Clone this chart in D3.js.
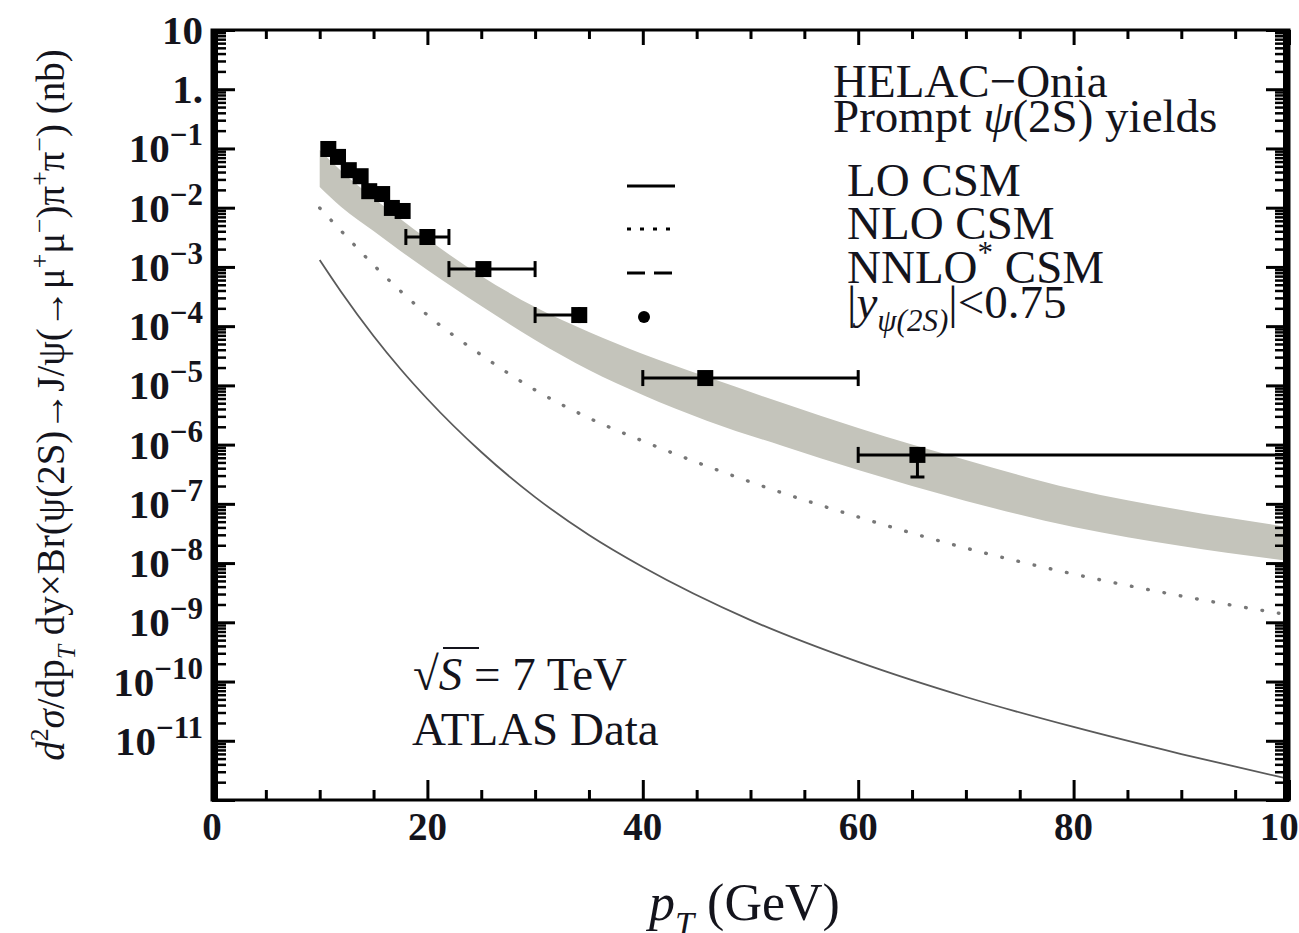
<!DOCTYPE html>
<html>
<head>
<meta charset="utf-8">
<script src="https://cdnjs.cloudflare.com/ajax/libs/d3/7.8.5/d3.min.js"></script>
<style>
body { margin: 0; background: #fff; overflow: hidden; }
text { font-family: "Liberation Serif", "DejaVu Serif", serif; fill: #14141c; }
</style>
</head>
<body>
<div id="container"></div>
<script>
// NNLO* CSM band (upper / lower edge), nb
var bandPt = [10, 12, 15, 17.5, 20, 25, 30, 35, 40, 46, 53, 60, 70, 80, 90, 100];
var bandHigh = [9.42e-2, 4.16e-2, 1.46e-2, 6.44e-3, 2.96e-3, 7.03e-4, 2.1e-4, 7.96e-5, 3.39e-5, 1.38e-5, 5.04e-6, 1.91e-6, 5.5e-7, 1.78e-7, 7.87e-8, 4.06e-8];
var bandLow = [2.23e-2, 1.03e-2, 4.04e-3, 1.86e-3, 8.87e-4, 2.19e-4, 5.83e-5, 1.82e-5, 6.89e-6, 2.51e-6, 9.46e-7, 3.72e-7, 1.12e-7, 4.06e-8, 1.94e-8, 1.08e-8];

// NLO and LO CSM curves
var curvePt = [10, 12, 15, 17.5, 20, 25, 30, 35, 40, 50, 60, 70, 80, 90, 100];
var nloCsm = [9.89e-3, 4.04e-3, 1.08e-3, 3.92e-4, 1.54e-4, 3.26e-5, 8.36e-6, 2.81e-6, 1.15e-6, 2.34e-7, 6.0e-8, 1.79e-8, 6.53e-9, 2.78e-9, 1.33e-9];
var loCsm = [1.31e-3, 3.78e-4, 6.82e-5, 1.89e-5, 5.89e-6, 7.5e-7, 1.3e-7, 2.98e-8, 8.59e-9, 1.09e-9, 2.14e-10, 5.48e-11, 1.71e-11, 5.97e-12, 2.26e-12];

// ATLAS data
var dataPt = [10.8, 11.7, 12.7, 13.8, 14.6, 15.8, 16.7, 17.7, 20.0, 25.2, 34.1, 45.8, 65.5];
var dataVal = [9.8e-2, 7.2e-2, 4.3e-2, 3.4e-2, 1.9e-2, 1.7e-2, 9.9e-3, 8.8e-3, 3.2e-3, 9.2e-4, 1.54e-4, 1.33e-5, 6.7e-7];
var dataPtLo = [10.8, 11.7, 12.7, 13.8, 14.6, 15.8, 16.7, 17.7, 18, 22, 30, 40, 60];
var dataPtHi = [10.8, 11.7, 12.7, 13.8, 14.6, 15.8, 16.7, 17.7, 22, 30, 34.1, 60, 100];
var dataValLo = [9.8e-2, 7.2e-2, 4.3e-2, 3.4e-2, 1.9e-2, 1.7e-2, 9.9e-3, 8.8e-3, 3.2e-3, 9.2e-4, 1.54e-4, 1.33e-5, 2.84e-7];
var dataValHi = [9.8e-2, 7.2e-2, 4.3e-2, 3.4e-2, 1.9e-2, 1.7e-2, 9.9e-3, 8.8e-3, 3.2e-3, 9.2e-4, 1.54e-4, 1.33e-5, 9.1e-7];

var xMajor = [0, 20, 40, 60, 80, 100];
var yExponents = [1, 0, -1, -2, -3, -4, -5, -6, -7, -8, -9, -10, -11];
var legendLabels = ["LO CSM", "NLO CSM", "NNLO* CSM"];

(function()
{
	var W = 1299, H = 933;
	var left = 212, right = 1289, top = 30, bottom = 800;
	var fs = 47; // text size of the legend / notes
	var svg = d3.select("#container").append("svg")
		.attr("width", W)
		.attr("height", H);

	var x = d3.scaleLinear().domain([0, 100]).range([left, right]);
	var y = d3.scaleLog().domain([1e-12, 10]).range([bottom, top]);

	// helper for sub/superscripts
	function rich(sel, parts, size)
	{
		var shift = 0;
		parts.forEach(function(p)
		{
			var mode = p[1] || "";
			var target = mode.indexOf("^") >= 0 ? -0.42 * size : (mode.indexOf("_") >= 0 ? 0.28 * size : 0);
			var ts = sel.append("tspan").attr("dy", target - shift).text(p[0]);
			if (target !== 0) ts.style("font-size", (size * 0.66) + "px");
			if (mode.indexOf("i") >= 0) ts.style("font-style", "italic");
			shift = target;
		});
	}

	svg.append("clipPath").attr("id", "plotclip").append("rect")
		.attr("x", left).attr("y", top).attr("width", right - left).attr("height", bottom - top);
	var plot = svg.append("g").attr("clip-path", "url(#plotclip)");

	// band
	var bandData = bandPt.map(function(p, i) { return {pt: p, hi: bandHigh[i], lo: bandLow[i]}; });
	plot.append("path")
		.datum(bandData)
		.attr("fill", "#c4c4bb")
		.attr("d", d3.area()
			.x(function(d) { return x(d.pt); })
			.y0(function(d) { return y(d.lo); })
			.y1(function(d) { return y(d.hi); })
			.curve(d3.curveMonotoneX));

	var line = d3.line()
		.x(function(d) { return x(d[0]); })
		.y(function(d) { return y(d[1]); })
		.curve(d3.curveMonotoneX);

	plot.append("path")
		.datum(d3.zip(curvePt, nloCsm))
		.attr("fill", "none")
		.attr("stroke", "#777")
		.attr("stroke-width", 3.4)
		.attr("stroke-linecap", "round")
		.attr("stroke-dasharray", "0.6,16")
		.attr("d", line);

	plot.append("path")
		.datum(d3.zip(curvePt, loCsm))
		.attr("fill", "none")
		.attr("stroke", "#5a5a5a")
		.attr("stroke-width", 1.8)
		.attr("d", line);

	// data points
	var pts = dataPt.map(function(p, i)
	{
		return {pt: p, v: dataVal[i], xl: dataPtLo[i], xh: dataPtHi[i], yl: dataValLo[i], yh: dataValHi[i]};
	});
	var g = plot.append("g").attr("stroke", "#000").attr("stroke-width", 3);
	pts.forEach(function(d)
	{
		if (d.xh > d.xl)
		{
			g.append("line").attr("x1", x(d.xl)).attr("x2", x(d.xh)).attr("y1", y(d.v)).attr("y2", y(d.v));
			g.append("line").attr("x1", x(d.xl)).attr("x2", x(d.xl)).attr("y1", y(d.v) - 8).attr("y2", y(d.v) + 8);
			g.append("line").attr("x1", x(d.xh)).attr("x2", x(d.xh)).attr("y1", y(d.v) - 8).attr("y2", y(d.v) + 8);
		}
		if (d.yl < d.yh)
		{
			g.append("line").attr("x1", x(d.pt)).attr("x2", x(d.pt)).attr("y1", y(d.yl)).attr("y2", y(d.yh));
			g.append("line").attr("x1", x(d.pt) - 7).attr("x2", x(d.pt) + 7).attr("y1", y(d.yl)).attr("y2", y(d.yl));
		}
	});
	plot.selectAll(".pt").data(pts).enter().append("rect")
		.attr("x", function(d) { return x(d.pt) - 8; })
		.attr("y", function(d) { return y(d.v) - 8; })
		.attr("width", 16).attr("height", 16)
		.attr("fill", "#000");

	// axes
	var yMinor = [];
	for (var e = -12; e <= 0; e++)
		for (var k = 2; k <= 9; k++) yMinor.push(k * Math.pow(10, e));
	var yMajor = yExponents.map(function(n) { return Math.pow(10, n); }).concat([1e-12]);
	var xMinor = d3.range(0, 101, 5).filter(function(v) { return v % 20 !== 0; });

	function styleAxis(a, w)
	{
		a.select(".domain").remove();
		a.selectAll("line").attr("stroke", "#000").attr("stroke-width", w);
	}
	svg.append("g").attr("transform", "translate(" + left + ",0)")
		.call(d3.axisLeft(y).tickValues(yMinor).tickSize(-14).tickFormat(""))
		.call(styleAxis, 2.5);
	svg.append("g").attr("transform", "translate(" + left + ",0)")
		.call(d3.axisLeft(y).tickValues(yMajor).tickSize(-23).tickFormat(""))
		.call(styleAxis, 3);
	svg.append("g").attr("transform", "translate(" + right + ",0)")
		.call(d3.axisRight(y).tickValues(yMinor).tickSize(-14).tickFormat(""))
		.call(styleAxis, 2.5);
	svg.append("g").attr("transform", "translate(" + right + ",0)")
		.call(d3.axisRight(y).tickValues(yMajor).tickSize(-23).tickFormat(""))
		.call(styleAxis, 3);
	svg.append("g").attr("transform", "translate(0," + bottom + ")")
		.call(d3.axisBottom(x).tickValues(xMinor).tickSize(-10).tickFormat(""))
		.call(styleAxis, 3);
	svg.append("g").attr("transform", "translate(0," + bottom + ")")
		.call(d3.axisBottom(x).tickValues(xMajor).tickSize(-20).tickFormat(""))
		.call(styleAxis, 3);
	svg.append("g").attr("transform", "translate(0," + top + ")")
		.call(d3.axisTop(x).tickValues(xMinor).tickSize(-9).tickFormat(""))
		.call(styleAxis, 3);
	svg.append("g").attr("transform", "translate(0," + top + ")")
		.call(d3.axisTop(x).tickValues(xMajor).tickSize(-15).tickFormat(""))
		.call(styleAxis, 3);

	// frame
	svg.append("rect").attr("x", left).attr("y", top).attr("width", right - left).attr("height", bottom - top)
		.attr("fill", "none").attr("stroke", "#000").attr("stroke-width", 3);
	svg.append("line").attr("x1", left + 3).attr("x2", left + 3).attr("y1", top).attr("y2", bottom)
		.attr("stroke", "#000").attr("stroke-width", 6);
	svg.append("line").attr("x1", right - 3).attr("x2", right - 3).attr("y1", top).attr("y2", bottom)
		.attr("stroke", "#000").attr("stroke-width", 6);

	// tick labels
	yExponents.forEach(function(n)
	{
		var t = svg.append("text")
			.attr("x", 203)
			.attr("y", y(Math.pow(10, n)) + 14)
			.attr("text-anchor", "end")
			.style("font-size", "41px")
			.style("font-weight", "bold");
		if (n === 1) t.text("10");
		else if (n === 0) t.text("1.");
		else
		{
			t.append("tspan").text("10");
			t.append("tspan").attr("dy", -17).style("font-size", "31px").text("\u2212" + (-n));
		}
	});
	svg.selectAll(".xl").data(xMajor).enter().append("text")
		.attr("x", function(d) { return x(d); })
		.attr("y", 840)
		.attr("text-anchor", "middle")
		.style("font-size", "39px")
		.style("font-weight", "bold")
		.text(function(d) { return d; });

	// axis titles
	var xt = svg.append("text").attr("x", 649).attr("y", 920).style("font-size", "52px");
	rich(xt, [["p", "i"], ["T", "_i"], [" (GeV)"]], 52);

	var yt = svg.append("text")
		.attr("transform", "translate(64,405) rotate(-90)")
		.attr("text-anchor", "middle")
		.style("font-size", "39px");
	rich(yt, [["d", "i"], ["2", "^"], ["\u03c3", "i"], ["/dp"], ["T", "_i"], [" dy\u00d7Br(\u03c8(2S)\u2192J/\u03c8(\u2192\u03bc"], ["+", "^"],
		["\u03bc"], ["\u2212", "^"], [")\u03c0"], ["+", "^"], ["\u03c0"], ["\u2212", "^"], [") (nb)"]], 39);

	// legend
	svg.append("text").attr("x", 833).attr("y", 97).style("font-size", fs + "px").text("HELAC\u2212Onia");
	var pr = svg.append("text").attr("x", 833).attr("y", 132).style("font-size", fs + "px");
	rich(pr, [["Prompt "], ["\u03c8", "i"], ["(2S) yields"]], fs);

	var legY = [186, 229, 273];
	var dashes = [null, "4,9", "18,9"];
	legendLabels.forEach(function(lab, i)
	{
		svg.append("line").attr("x1", 627).attr("x2", 675).attr("y1", legY[i]).attr("y2", legY[i])
			.attr("stroke", "#000").attr("stroke-width", 3).attr("stroke-dasharray", dashes[i]);
		var t = svg.append("text").attr("x", 847).attr("y", legY[i] + 10).style("font-size", fs + "px");
		if (i === 2) rich(t, [["NNLO"], ["*", "^"], [" CSM"]], fs);
		else t.text(lab);
	});
	svg.append("circle").attr("cx", 644).attr("cy", 317).attr("r", 6).attr("fill", "#000");
	var yl = svg.append("text").attr("x", 847).attr("y", 318).style("font-size", fs + "px");
	rich(yl, [["|"], ["y", "i"], ["\u03c8(2S)", "_i"], ["|<0.75"]], fs);

	// energy text
	var st = svg.append("text").attr("x", 413).attr("y", 690).style("font-size", fs + "px");
	rich(st, [["\u221a"], ["S", "i"], [" = 7 TeV"]], fs);
	svg.append("line").attr("x1", 443).attr("x2", 479).attr("y1", 648).attr("y2", 648)
		.attr("stroke", "#14141c").attr("stroke-width", 2);
	svg.append("text").attr("x", 412).attr("y", 745).style("font-size", fs + "px").text("ATLAS Data");
})();
</script>
</body>
</html>
